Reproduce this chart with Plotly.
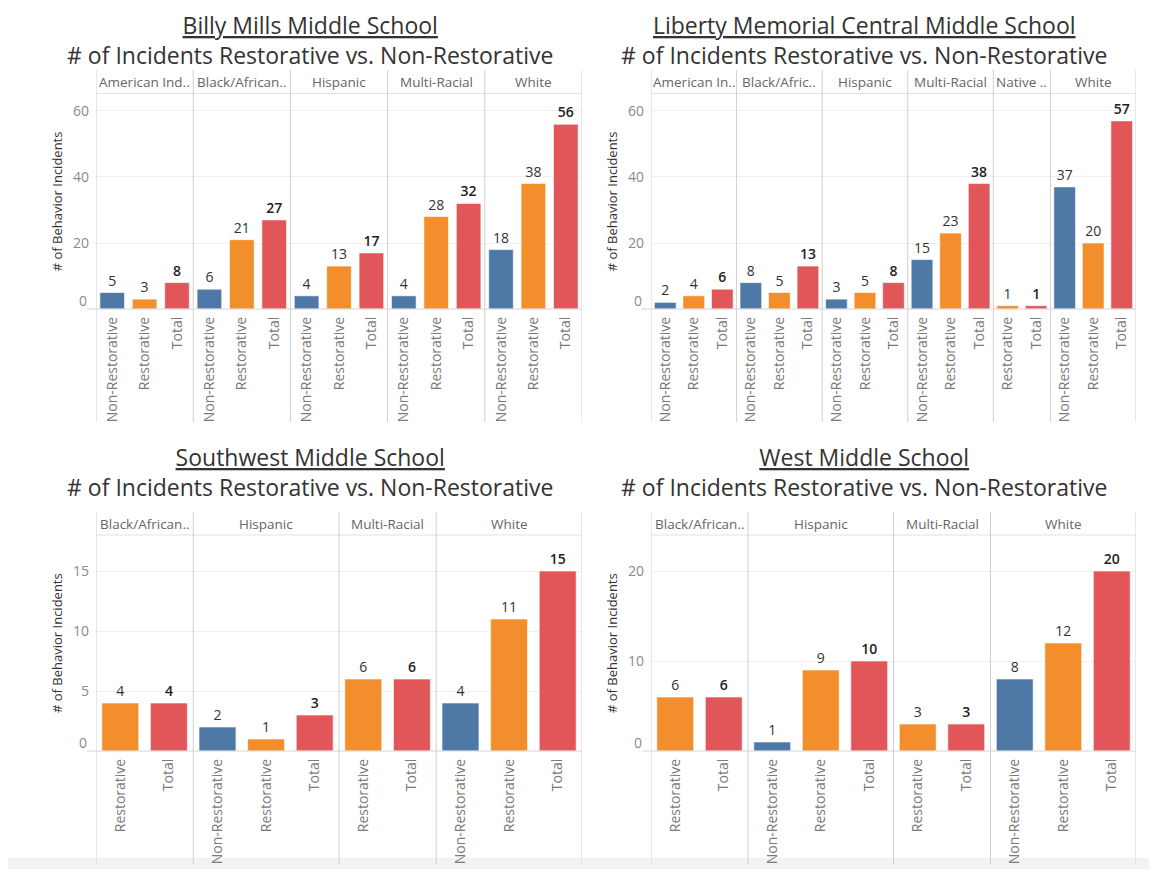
import plotly.graph_objects as go

# page has an 8px body margin, so the figure is drawn 8px in from the top-left
W, H = 1157, 877
PAD = 8
FW, FH = W - 2 * PAD, H - 2 * PAD

# --- data ---
schools = ["Billy Mills Middle School", "Liberty Memorial Central Middle School",
           "Southwest Middle School", "West Middle School"]
subtitle = "# of Incidents Restorative vs. Non-Restorative"

billy_race = ["American Ind..", "American Ind..", "American Ind..",
              "Black/African..", "Black/African..", "Black/African..",
              "Hispanic", "Hispanic", "Hispanic",
              "Multi-Racial", "Multi-Racial", "Multi-Racial",
              "White", "White", "White"]
billy_type = ["Non-Restorative", "Restorative", "Total"] * 5
billy_count = [5, 3, 8, 6, 21, 27, 4, 13, 17, 4, 28, 32, 18, 38, 56]

liberty_race = ["American In..", "American In..", "American In..",
                "Black/Afric..", "Black/Afric..", "Black/Afric..",
                "Hispanic", "Hispanic", "Hispanic",
                "Multi-Racial", "Multi-Racial", "Multi-Racial",
                "Native ..", "Native ..",
                "White", "White", "White"]
liberty_type = (["Non-Restorative", "Restorative", "Total"] * 4
                + ["Restorative", "Total"]
                + ["Non-Restorative", "Restorative", "Total"])
liberty_count = [2, 4, 6, 8, 5, 13, 3, 5, 8, 15, 23, 38, 1, 1, 37, 20, 57]

southwest_race = ["Black/African..", "Black/African..",
                  "Hispanic", "Hispanic", "Hispanic",
                  "Multi-Racial", "Multi-Racial",
                  "White", "White", "White"]
southwest_type = ["Restorative", "Total",
                  "Non-Restorative", "Restorative", "Total",
                  "Restorative", "Total",
                  "Non-Restorative", "Restorative", "Total"]
southwest_count = [4, 4, 2, 1, 3, 6, 6, 4, 11, 15]

west_race = ["Black/African..", "Black/African..",
             "Hispanic", "Hispanic", "Hispanic",
             "Multi-Racial", "Multi-Racial",
             "White", "White", "White"]
west_type = ["Restorative", "Total",
             "Non-Restorative", "Restorative", "Total",
             "Restorative", "Total",
             "Non-Restorative", "Restorative", "Total"]
west_count = [6, 6, 1, 9, 10, 3, 3, 8, 12, 20]

top_ticks = [20, 40, 60]
southwest_ticks = [5, 10, 15]
west_ticks = [10, 20]

type_order = ["Non-Restorative", "Restorative", "Total"]
type_colors = {"Non-Restorative": "#4e79a7", "Restorative": "#f28e2b", "Total": "#e15759"}

# --- layout of the four panes (screen pixels) ---
panels = [
    dict(race=billy_race, typ=billy_type, cnt=billy_count, ticks=top_ticks,
         x0=96, x1=582, htop=70, hbot=93.5, base=309, sbot=422, ymax=65.3, ttop=True, tcx=310, ytx=57),
    dict(race=liberty_race, typ=liberty_type, cnt=liberty_count, ticks=top_ticks,
         x0=651, x1=1136, htop=70, hbot=93.5, base=309, sbot=422, ymax=65.3, ttop=True, tcx=864, ytx=612),
    dict(race=southwest_race, typ=southwest_type, cnt=southwest_count, ticks=southwest_ticks,
         x0=96, x1=582, htop=512, hbot=535, base=751, sbot=864, ymax=18, ttop=False, tcy=472, tcx=310, ytx=57),
    dict(race=west_race, typ=west_type, cnt=west_count, ticks=west_ticks,
         x0=651, x1=1136, htop=512, hbot=535, base=751, sbot=864, ymax=24, ttop=False, tcy=472, tcx=864, ytx=612),
]


def px(x):
    return (x - PAD) / FW


def py(y):
    return 1 - (y - PAD) / FH


FONT = "Open Sans"
fig = go.Figure()
shapes, annotations = [], []

for k, (p, school) in enumerate(zip(panels, schools), start=1):
    xa = "x" if k == 1 else f"x{k}"
    ya = "y" if k == 1 else f"y{k}"
    n = len(p["cnt"])
    idx = list(range(n))

    for t in type_order:
        sel = [i for i in idx if p["typ"][i] == t]
        if not sel:
            continue
        is_total = t == "Total"
        fig.add_trace(go.Bar(
            x=sel, y=[p["cnt"][i] for i in sel], xaxis=xa, yaxis=ya, width=0.76,
            name=t, marker=dict(color=type_colors[t],
                                line=dict(color="rgba(255,255,255,0.6)", width=1)),
            text=[p["cnt"][i] for i in sel], textposition="outside", cliponaxis=False,
            textfont=dict(family=FONT, size=14, color="#222222" if is_total else "#333333",
                          weight=600 if is_total else 400),
            hovertext=[p["race"][i] for i in sel],
            showlegend=False,
        ))

    fig.update_layout(**{
        ("xaxis" if k == 1 else f"xaxis{k}"): dict(
            domain=[px(p["x0"]), px(p["x1"])], anchor=ya,
            range=[-0.5, n - 0.5], tickvals=idx, ticktext=p["typ"],
            tickangle=-90, showgrid=False, zeroline=False, showline=False,
            ticks="", ticklabelstandoff=4,
            tickfont=dict(family=FONT, size=14, color="#7a7a7a"),
        ),
        ("yaxis" if k == 1 else f"yaxis{k}"): dict(
            domain=[py(p["base"]), py(p["hbot"])], anchor=xa,
            range=[0, p["ymax"]], tickvals=p["ticks"],
            showgrid=True, gridcolor="#f0f0f0", zeroline=False, showline=False,
            ticks="", ticklabelstandoff=6,
            tickfont=dict(family=FONT, size=14, color="#8a8a8a"),
        ),
    })

    # zero label sits just above the baseline, Tableau style
    annotations.append(dict(text="0", xref="paper", yref=ya, x=px(p["x0"] - 7), y=0,
                            xanchor="right", yanchor="middle", yshift=9, showarrow=False,
                            font=dict(family=FONT, size=14, color="#8a8a8a")))

    # baseline and header rule
    shapes.append(dict(type="line", xref="paper", yref="paper",
                       x0=px(p["x0"] - 9), x1=px(p["x1"]), y0=py(p["base"]), y1=py(p["base"]),
                       line=dict(color="#d4d4d4", width=1)))
    shapes.append(dict(type="line", xref="paper", yref="paper",
                       x0=px(p["x0"]), x1=px(p["x1"]), y0=py(p["hbot"]), y1=py(p["hbot"]),
                       line=dict(color="#e2e2e2", width=1)))

    # facet separators and headers
    groups = []
    for i, r in enumerate(p["race"]):
        if not groups or groups[-1][0] != r:
            groups.append([r, i, i])
        else:
            groups[-1][2] = i
    edges = [g[1] - 0.5 for g in groups] + [n - 0.5]
    for e in edges:
        shapes.append(dict(type="line", xref=xa, yref="paper", x0=e, x1=e,
                           y0=py(p["sbot"]), y1=py(p["htop"]),
                           line=dict(color="#d0d0d0", width=1)))
    for r, a, b in groups:
        annotations.append(dict(text=r, xref=xa, yref="paper", x=(a + b) / 2,
                                y=py((p["htop"] + p["hbot"]) / 2), showarrow=False,
                                xanchor="center", yanchor="middle",
                                font=dict(family=FONT, size=13.5, color="#666666")))

    # two-line title block
    title_pos = dict(y=1, yanchor="top") if p["ttop"] else dict(y=py(p["tcy"]), yanchor="middle")
    annotations.append(dict(text=f"<u>{school}</u><br>{subtitle}", xref="paper", yref="paper",
                            x=px(p["tcx"]), xanchor="center", showarrow=False,
                            borderpad=0, align="center",
                            font=dict(family=FONT, size=23, color="#333333", weight=500),
                            **title_pos))
    annotations.append(dict(text="# of Behavior Incidents", xref="paper", yref="paper",
                            x=px(p["ytx"]), y=py((p["hbot"] + p["base"]) / 2),
                            textangle=-90, showarrow=False, xanchor="center", yanchor="middle",
                            font=dict(family=FONT, size=13, color="#333333")))

# faint band along the bottom edge
shapes.append(dict(type="rect", xref="paper", yref="paper", x0=-0.01, x1=1.01,
                   y0=py(H - PAD), y1=py(858), fillcolor="#f3f3f3", line=dict(width=0), layer="below"))

fig.update_layout(
    width=FW, height=FH,
    margin=dict(l=0, r=0, t=0, b=0),
    paper_bgcolor="white", plot_bgcolor="white",
    font=dict(family=FONT),
    shapes=shapes, annotations=annotations,
    barmode="overlay",
)

fig.write_html("out.html")
